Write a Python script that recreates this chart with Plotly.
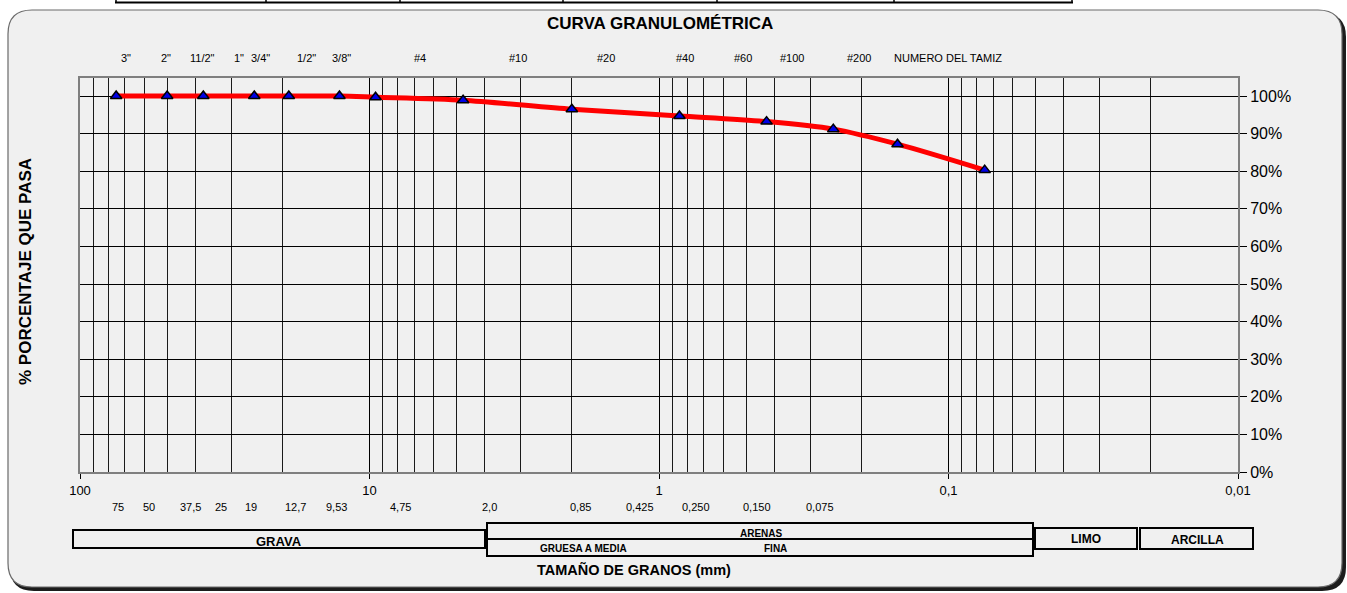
import plotly.graph_objects as go

# ---------------- data ----------------
sizes_mm = [75, 50, 37.5, 25, 19, 12.7, 9.53, 4.75, 2.0, 0.85, 0.425, 0.250, 0.150, 0.075]
passing = [100, 100, 100, 100, 100, 100, 99.7, 98.9, 96.5, 94.7, 93.2, 91.2, 87.2, 80.3]

sieve_labels = ['3"', '2"', '11/2"', '1"', '3/4"', '1/2"', '3/8"', '#4', '#10', '#20',
                '#40', '#60', '#100', '#200', 'NUMERO DEL TAMIZ']
mm_labels = ['75', '50', '37,5', '25', '19', '12,7', '9,53', '4,75', '2,0', '0,85',
             '0,425', '0,250', '0,150', '0,075']
decade_vals = [100, 10, 1, 0.1, 0.01]
decade_text = ['100', '10', '1', '0,1', '0,01']
pct_vals = list(range(0, 101, 10))
pct_text = [f"{v}%" for v in pct_vals]

# ---------------- layout geometry (pixels) ----------------
W, H = 1347, 593
L, R, T, B = 80, 1238, 78, 472
sieve_label_px = [126, 166, 202, 239, 260, 306, 341, 420, 518, 606, 685, 743, 792, 859, 948]
mm_label_px = [118, 149, 190, 221, 251, 295, 336, 400, 489, 580, 640, 696, 757, 820]

FONT = "Liberation Sans, Arial, sans-serif"


def px(X):
    return (X - L) / (R - L)


def py(Y):
    return (B - Y) / (B - T)


def rrect_path(x0, y0, x1, y1, r):
    pts = [("M", x0 + r, y0), ("L", x1 - r, y0), ("Q", x1, y0, x1, y0 + r),
           ("L", x1, y1 - r), ("Q", x1, y1, x1 - r, y1), ("L", x0 + r, y1),
           ("Q", x0, y1, x0, y1 - r), ("L", x0, y0 + r), ("Q", x0, y0, x0 + r, y0)]
    s = ""
    for p in pts:
        cmd = p[0]
        coords = p[1:]
        parts = []
        for i in range(0, len(coords), 2):
            parts.append(f"{px(coords[i]):.5f},{py(coords[i + 1]):.5f}")
        s += cmd + " " + " ".join(parts) + " "
    return s + "Z"


minor_vals = [m * 10 ** e for e in (-2, -1, 0, 1) for m in range(2, 10)]

fig = go.Figure()
fig.add_trace(go.Scatter(
    x=sizes_mm, y=passing, mode="lines+markers",
    line=dict(color="#ff0000", width=5, shape="spline", smoothing=0.8),
    marker=dict(symbol="triangle-up", size=10, color="#0000e6",
                line=dict(color="black", width=1.5)),
    hoverinfo="x+y", showlegend=False))

shapes = []
# frame shadow and frame
shapes.append(dict(type="path", xref="paper", yref="paper", layer="below",
                   path=rrect_path(10, 13, 1346, 591, 24),
                   fillcolor="#1c1c1c", line=dict(width=0)))
shapes.append(dict(type="path", xref="paper", yref="paper", layer="below",
                   path=rrect_path(8, 10, 1342, 587, 24),
                   fillcolor="#f0f0f0", line=dict(color="#6a6a6a", width=1.2)))
# top table strip remnant
shapes.append(dict(type="line", xref="paper", yref="paper",
                   x0=px(115), x1=px(1073), y0=py(2.5), y1=py(2.5),
                   line=dict(color="black", width=2)))
for xv in [116, 266, 400, 563, 717, 894, 1072]:
    shapes.append(dict(type="line", xref="paper", yref="paper",
                       x0=px(xv), x1=px(xv), y0=py(-5), y1=py(2.5),
                       line=dict(color="black", width=1.5)))
# classification boxes
box_line = dict(color="black", width=2)
for (x0, y0, x1, y1) in [(73, 530, 485, 548), (487, 523, 1033, 556),
                         (1035, 528, 1137, 549), (1140, 528, 1253, 549)]:
    shapes.append(dict(type="rect", xref="paper", yref="paper",
                       x0=px(x0), x1=px(x1), y0=py(y0), y1=py(y1),
                       line=box_line, fillcolor="rgba(0,0,0,0)"))
shapes.append(dict(type="line", xref="paper", yref="paper",
                   x0=px(487), x1=px(1033), y0=py(539), y1=py(539), line=box_line))

ann = []


def text(x, y, t, size, bold=False, angle=0, xanchor="center"):
    ann.append(dict(xref="paper", yref="paper", x=px(x), y=py(y),
                    text=f"<b>{t}</b>" if bold else t, showarrow=False,
                    xanchor=xanchor, yanchor="middle", textangle=angle,
                    font=dict(family=FONT, size=size, color="black")))


text(660, 24, "CURVA GRANULOMÉTRICA", 17, bold=True)
for lab, xp in zip(sieve_labels, sieve_label_px):
    text(xp, 58, lab, 11)
for lab, xp in zip(mm_labels, mm_label_px):
    text(xp, 507, lab, 11)
text(25, 272, "% PORCENTAJE QUE PASA", 17, bold=True, angle=-90)
text(279, 541, "GRAVA", 13, bold=True)
text(761, 533, "<u>ARENAS</u>", 10, bold=True)
text(583, 548, "GRUESA A MEDIA", 10, bold=True)
text(775, 548, "FINA", 10, bold=True)
text(1086, 539, "LIMO", 12, bold=True)
text(1197, 540, "ARCILLA", 12, bold=True)
text(634, 569, "TAMAÑO DE GRANOS (mm)", 14.5, bold=True)

fig.update_layout(
    width=W, height=H,
    margin=dict(l=L, r=W - R, t=T, b=H - B, pad=0),
    paper_bgcolor="white", plot_bgcolor="rgba(0,0,0,0)",
    font=dict(family=FONT, color="black"),
    shapes=shapes, annotations=ann,
    xaxis=dict(type="log", range=[2, -2], tickvals=decade_vals, ticktext=decade_text,
               ticks="outside", ticklen=5, tickcolor="black",
               tickfont=dict(size=13, family=FONT),
               showgrid=True, gridcolor="black", gridwidth=1,
               minor=dict(tickvals=minor_vals, showgrid=True, gridcolor="#1a1a1a",
                          gridwidth=1, ticks=""),
               showline=True, linecolor="#7f7f7f", linewidth=2, mirror=True,
               zeroline=False),
    yaxis=dict(side="right", range=[0, 104.8], tickvals=pct_vals, ticktext=pct_text,
               ticks="outside", ticklen=7, tickcolor="black",
               tickfont=dict(size=16, family=FONT),
               showgrid=True, gridcolor="black", gridwidth=1,
               showline=True, linecolor="#7f7f7f", linewidth=2, mirror=True,
               zeroline=False),
)

fig.write_html("out.html", config={"displayModeBar": False},
               post_script="document.body.style.margin='0';document.body.style.padding='0';")
